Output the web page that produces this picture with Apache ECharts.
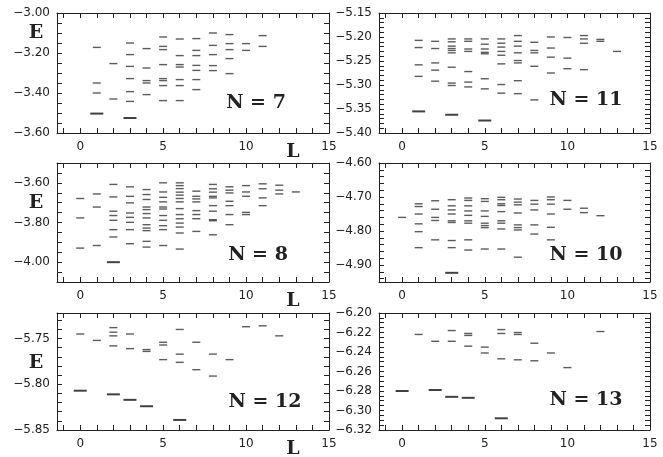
<!DOCTYPE html>
<html>
<head>
<meta charset="utf-8">
<script src="https://cdn.jsdelivr.net/npm/echarts@6/dist/echarts.min.js"></script>
<style>
  html, body { margin: 0; padding: 0; background: #fff; }
  #chart { width: 663px; height: 457px; }
</style>
</head>
<body>
<div id="chart"></div>
<script>
// energy levels [L, E]; "ground" are the long bold dashes
const levels7 = [
  [1, -3.172], [1, -3.35], [1, -3.40],
  [2, -3.253], [2, -3.43],
  [3, -3.15], [3, -3.208], [3, -3.267], [3, -3.328], [3, -3.393], [3, -3.442],
  [4, -3.178], [4, -3.275], [4, -3.338], [4, -3.35], [4, -3.408],
  [5, -3.12], [5, -3.167], [5, -3.183], [5, -3.258], [5, -3.328], [5, -3.338], [5, -3.363], [5, -3.438],
  [6, -3.13], [6, -3.213], [6, -3.258], [6, -3.27], [6, -3.333], [6, -3.363], [6, -3.438],
  [7, -3.128], [7, -3.187], [7, -3.213], [7, -3.262], [7, -3.287], [7, -3.333], [7, -3.383],
  [8, -3.10], [8, -3.162], [8, -3.208], [8, -3.263], [8, -3.288],
  [9, -3.108], [9, -3.153], [9, -3.183], [9, -3.228], [9, -3.303],
  [10, -3.153], [10, -3.187],
  [11, -3.113], [11, -3.167]
];
const ground7 = [[1, -3.503], [3, -3.525]];

const levels11 = [
  [1, -5.207], [1, -5.222], [1, -5.258], [1, -5.282],
  [2, -5.209], [2, -5.224], [2, -5.254], [2, -5.269], [2, -5.292],
  [3, -5.204], [3, -5.210], [3, -5.219], [3, -5.224], [3, -5.228], [3, -5.233], [3, -5.263], [3, -5.296], [3, -5.301],
  [4, -5.204], [4, -5.209], [4, -5.225], [4, -5.230], [4, -5.272], [4, -5.294], [4, -5.304],
  [5, -5.204], [5, -5.215], [5, -5.225], [5, -5.232], [5, -5.235], [5, -5.287], [5, -5.308],
  [6, -5.204], [6, -5.213], [6, -5.221], [6, -5.230], [6, -5.238], [6, -5.256], [6, -5.299], [6, -5.317],
  [7, -5.197], [7, -5.209], [7, -5.219], [7, -5.233], [7, -5.249], [7, -5.254], [7, -5.291], [7, -5.318],
  [8, -5.211], [8, -5.228], [8, -5.233], [8, -5.261], [8, -5.331],
  [9, -5.200], [9, -5.223], [9, -5.242], [9, -5.275],
  [10, -5.201], [10, -5.244], [10, -5.266],
  [11, -5.197], [11, -5.204], [11, -5.213], [11, -5.268],
  [12, -5.205], [12, -5.209],
  [13, -5.230]
];
const ground11 = [[1, -5.355], [3, -5.362], [5, -5.374]];

const levels8 = [
  [0, -3.679], [0, -3.777], [0, -3.929],
  [1, -3.656], [1, -3.722], [1, -3.916],
  [2, -3.608], [2, -3.671], [2, -3.743], [2, -3.765], [2, -3.789], [2, -3.836], [2, -3.873],
  [3, -3.620], [3, -3.668], [3, -3.701], [3, -3.752], [3, -3.774], [3, -3.799], [3, -3.836], [3, -3.907],
  [4, -3.634], [4, -3.659], [4, -3.684], [4, -3.722], [4, -3.735], [4, -3.755], [4, -3.777], [4, -3.811], [4, -3.828], [4, -3.841], [4, -3.895], [4, -3.924],
  [5, -3.600], [5, -3.646], [5, -3.673], [5, -3.696], [5, -3.722], [5, -3.732], [5, -3.765], [5, -3.789], [5, -3.816], [5, -3.836], [5, -3.916],
  [6, -3.600], [6, -3.614], [6, -3.629], [6, -3.647], [6, -3.662], [6, -3.679], [6, -3.696], [6, -3.730], [6, -3.760], [6, -3.781], [6, -3.803], [6, -3.823], [6, -3.853], [6, -3.934],
  [7, -3.642], [7, -3.668], [7, -3.681], [7, -3.696], [7, -3.740], [7, -3.760], [7, -3.781], [7, -3.845],
  [8, -3.608], [8, -3.630], [8, -3.647], [8, -3.668], [8, -3.676], [8, -3.715], [8, -3.743], [8, -3.786], [8, -3.791], [8, -3.862],
  [9, -3.620], [9, -3.637], [9, -3.651], [9, -3.693], [9, -3.715], [9, -3.760], [9, -3.811],
  [10, -3.614], [10, -3.646], [10, -3.668], [10, -3.749], [10, -3.760],
  [11, -3.605], [11, -3.630], [11, -3.676], [11, -3.715],
  [12, -3.612], [12, -3.637], [12, -3.656],
  [13, -3.646]
];
const ground8 = [[2, -4.00]];

const levels10 = [
  [0, -4.760],
  [1, -4.720], [1, -4.728], [1, -4.750], [1, -4.779], [1, -4.802], [1, -4.849],
  [2, -4.711], [2, -4.736], [2, -4.760], [2, -4.769], [2, -4.826],
  [3, -4.708], [3, -4.726], [3, -4.738], [3, -4.750], [3, -4.770], [3, -4.775], [3, -4.828], [3, -4.849],
  [4, -4.703], [4, -4.710], [4, -4.726], [4, -4.741], [4, -4.754], [4, -4.770], [4, -4.777], [4, -4.826], [4, -4.856],
  [5, -4.705], [5, -4.713], [5, -4.741], [5, -4.757], [5, -4.777], [5, -4.784], [5, -4.790], [5, -4.853],
  [6, -4.701], [6, -4.708], [6, -4.720], [6, -4.725], [6, -4.743], [6, -4.770], [6, -4.777], [6, -4.794], [6, -4.853],
  [7, -4.706], [7, -4.715], [7, -4.723], [7, -4.747], [7, -4.782], [7, -4.790], [7, -4.797], [7, -4.877],
  [8, -4.710], [8, -4.721], [8, -4.738], [8, -4.782], [8, -4.809],
  [9, -4.700], [9, -4.708], [9, -4.721], [9, -4.750], [9, -4.789], [9, -4.826],
  [10, -4.710], [10, -4.736],
  [11, -4.733], [11, -4.746],
  [12, -4.755]
];
const ground10 = [[3, -4.923]];

const levels12 = [
  [0, -5.745],
  [1, -5.752],
  [2, -5.738], [2, -5.743], [2, -5.747], [2, -5.758],
  [3, -5.745], [3, -5.761],
  [4, -5.762], [4, -5.764],
  [5, -5.754], [5, -5.757], [5, -5.773],
  [6, -5.740], [6, -5.767], [6, -5.776],
  [7, -5.754], [7, -5.784],
  [8, -5.767], [8, -5.791],
  [9, -5.773],
  [10, -5.737],
  [11, -5.736],
  [12, -5.747]
];
const ground12 = [[0, -5.807], [2, -5.811], [3, -5.817], [4, -5.824], [6, -5.839]];

const levels13 = [
  [1, -6.222],
  [2, -6.229],
  [3, -6.218], [3, -6.229],
  [4, -6.221], [4, -6.223], [4, -6.234],
  [5, -6.235], [5, -6.241],
  [6, -6.217], [6, -6.221], [6, -6.247],
  [7, -6.220], [7, -6.222], [7, -6.248],
  [8, -6.231], [8, -6.249],
  [9, -6.241],
  [10, -6.256],
  [12, -6.219]
];
const ground13 = [[0, -6.280], [2, -6.279], [3, -6.286], [4, -6.287], [6, -6.308]];

// axis tick labels
const xLabels = [0, 5, 10, 15];
const yLabels7 = [-3.6, -3.4, -3.2, -3.0];
const yLabels11 = [-5.4, -5.35, -5.3, -5.25, -5.2, -5.15];
const yLabels8 = [-4.0, -3.8, -3.6];
const yLabels10 = [-4.9, -4.8, -4.7, -4.6];
const yLabels12 = [-5.85, -5.8, -5.75];
const yLabels13 = [-6.32, -6.3, -6.28, -6.26, -6.24, -6.22, -6.2];

const X_MIN = -1.4, X_MAX = 15;

const panels = [
  { title: "N = 7", levels: levels7, ground: ground7, yMin: -3.6, yMax: -3.0, yLabels: yLabels7, step: 0.05,
    grid: { left: 57, top: 13, width: 272, height: 120 }, tx: 256, ty: 103, ey: 33 },
  { title: "N = 11", levels: levels11, ground: ground11, yMin: -5.4, yMax: -5.15, yLabels: yLabels11, step: 0.01,
    grid: { left: 379, top: 13, width: 271, height: 120 }, tx: 586, ty: 100 },
  { title: "N = 8", levels: levels8, ground: ground8, yMin: -4.1, yMax: -3.5, yLabels: yLabels8, step: 0.05,
    grid: { left: 57, top: 163, width: 272, height: 119 }, tx: 258, ty: 255, ey: 203 },
  { title: "N = 10", levels: levels10, ground: ground10, yMin: -4.95, yMax: -4.6, yLabels: yLabels10, step: 0.02,
    grid: { left: 379, top: 163, width: 271, height: 119 }, tx: 586, ty: 255 },
  { title: "N = 12", levels: levels12, ground: ground12, yMin: -5.85, yMax: -5.722, yLabels: yLabels12, step: 0.01,
    grid: { left: 57, top: 313, width: 272, height: 117 }, tx: 265, ty: 402, ey: 363 },
  { title: "N = 13", levels: levels13, ground: ground13, yMin: -6.32, yMax: -6.2, yLabels: yLabels13, step: 0.005,
    grid: { left: 379, top: 313, width: 271, height: 117 }, tx: 586, ty: 400 }
];

const INK = "#222";
const labelFont = { color: INK, fontFamily: "DejaVu Sans", fontSize: 12 };
const titleFont = { fill: INK, fontFamily: "DejaVu Serif", fontWeight: "bold", fontSize: 19 };

function stepValues(min, max, step) {
  const out = [];
  const start = Math.ceil(min / step - 1e-6);
  for (let k = start; k * step <= max + 1e-9; k++) out.push(+(k * step).toFixed(4));
  return out;
}

function fmtY(v) {
  return "\u2212" + Math.abs(v).toFixed(2);
}

// one axis per side: frame line + inward ticks, labels only where given
function sideAxis(base, pos, ticks, labels, margin, formatter) {
  const axisLabel = labels
    ? Object.assign({ show: true, margin: margin, customValues: labels }, labelFont)
    : { show: false };
  if (labels && formatter) axisLabel.formatter = formatter;
  return Object.assign({}, base, {
    position: pos,
    axisLine: { show: true, onZero: false, lineStyle: { color: INK, width: 1 } },
    axisTick: { show: true, inside: true, length: 5, customValues: ticks, lineStyle: { color: INK, width: 1 } },
    axisLabel: axisLabel
  });
}

const grids = [], xAxes = [], yAxes = [], series = [], graphics = [];

panels.forEach((p, i) => {
  grids.push(p.grid);
  const xTicks = stepValues(-1, 14, 1);
  const yTicks = stepValues(p.yMin, p.yMax, p.step);
  const baseX = { gridIndex: i, type: "value", min: X_MIN, max: X_MAX, splitLine: { show: false } };
  const baseY = { gridIndex: i, type: "value", min: p.yMin, max: p.yMax, splitLine: { show: false } };

  const xi = xAxes.length, yi = yAxes.length;
  xAxes.push(sideAxis(baseX, "bottom", xTicks, xLabels, 8));
  xAxes.push(sideAxis(baseX, "top", xTicks, null));
  yAxes.push(sideAxis(baseY, "left", yTicks, p.yLabels, 7, fmtY));
  yAxes.push(sideAxis(baseY, "right", yTicks, null));

  series.push({
    type: "scatter", xAxisIndex: xi, yAxisIndex: yi, data: p.levels, silent: true,
    symbol: "rect", symbolSize: [8, 1.4], itemStyle: { color: "#333" }
  });
  series.push({
    type: "scatter", xAxisIndex: xi, yAxisIndex: yi, data: p.ground, silent: true,
    symbol: "rect", symbolSize: [13, 2], itemStyle: { color: "#111" }
  });
  graphics.push({
    type: "text", x: p.tx, y: p.ty,
    style: Object.assign({ text: p.title, align: "center", verticalAlign: "middle" }, titleFont)
  });
  if (p.ey) {
    graphics.push({
      type: "text", x: 36, y: p.ey,
      style: Object.assign({ text: "E", align: "center", verticalAlign: "middle" }, titleFont)
    });
    graphics.push({
      type: "text", x: 293, y: p.grid.top + p.grid.height + 19,
      style: Object.assign({ text: "L", align: "center", verticalAlign: "middle" }, titleFont)
    });
  }
});

const chart = echarts.init(document.getElementById("chart"));
chart.setOption({
  animation: false,
  backgroundColor: "#fff",
  grid: grids,
  xAxis: xAxes,
  yAxis: yAxes,
  series: series,
  graphic: graphics
});
</script>
</body>
</html>
